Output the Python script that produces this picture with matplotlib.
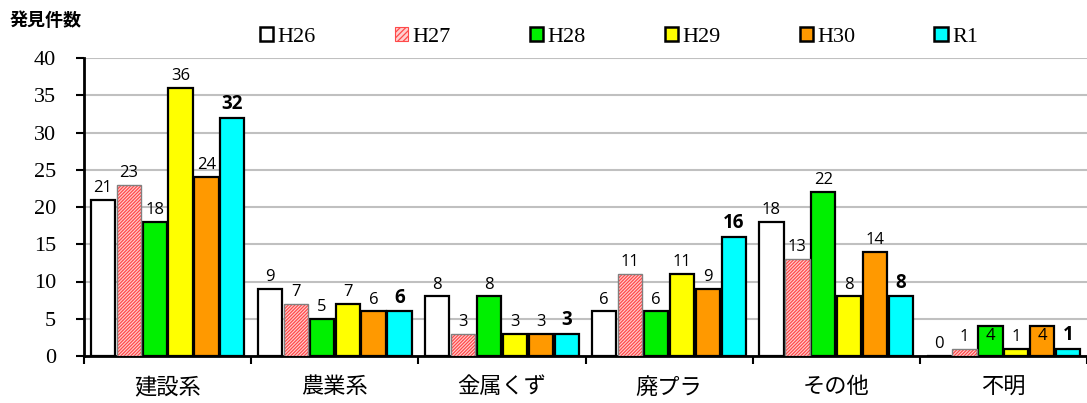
import numpy as np
import matplotlib.pyplot as plt
from matplotlib.patches import Patch

categories = ['建設系', '農業系', '金属くず', '廃プラ', 'その他', '不明']
years = ['H26', 'H27', 'H28', 'H29', 'H30', 'R1']
h26 = [21, 9, 8, 6, 18, 0]
h27 = [23, 7, 3, 11, 13, 1]
h28 = [18, 5, 8, 6, 22, 4]
h29 = [36, 7, 3, 11, 8, 1]
h30 = [24, 6, 3, 9, 14, 4]
r1 = [32, 6, 3, 16, 8, 1]
y_ticks = [0, 5, 10, 15, 20, 25, 30, 35, 40]

series = [h26, h27, h28, h29, h30, r1]
colors = ['white', 'white', '#00f000', '#ffff00', '#ff9900', '#00ffff']

plt.rcParams['font.family'] = ['Noto Sans CJK JP', 'DejaVu Sans']
plt.rcParams['hatch.linewidth'] = 0.9

fig = plt.figure(figsize=(10.87, 4.03), dpi=100)
ax = fig.add_axes([84 / 1087, 1 - 356 / 403, 1003 / 1087, 298 / 403])

x = np.arange(len(categories))
step = 0.155
width = 0.145

for i, (vals, c) in enumerate(zip(series, colors)):
    pos = x + (i - 2.5) * step
    if years[i] == 'H27':
        # ピンクの斜線パターン
        ax.bar(pos, vals, width, color='#ffd0d0', edgecolor='#ff4a4a', hatch='//////////',
               linewidth=0, zorder=3)
        ax.bar(pos, vals, width, fill=False, edgecolor='#808080', linewidth=1.0, zorder=4)
    else:
        ax.bar(pos, vals, width, color=c, edgecolor='black', linewidth=1.6, zorder=3)
    for j, v in enumerate(vals):
        bold = years[i] == 'R1'
        if categories[j] == '不明' and v == 4:
            ty, va = v - 0.2, 'top'
        else:
            ty, va = v + 0.5, 'bottom'
        ax.text(pos[j], ty, str(v), ha='center', va=va,
                fontsize=13.5 if bold else 12,
                fontweight='bold' if bold else 'normal',
                family=['Open Sans', 'DejaVu Sans'], zorder=5)

ax.set_xlim(-0.5, len(categories) - 0.5)
ax.set_ylim(0, 40)
ax.set_yticks(y_ticks)
ax.set_yticklabels([str(t) for t in y_ticks], family=['Liberation Serif'], fontsize=16)
ax.yaxis.grid(True, color='#c0c0c0', linewidth=1.5, zorder=0)
ax.set_axisbelow(True)

ax.set_xticks(np.arange(len(categories) + 1) - 0.5)
ax.set_xticklabels([])
ax.set_xticks(x, minor=True)
ax.set_xticklabels(categories, minor=True, fontsize=16)
ax.tick_params(axis='x', which='minor', length=0, pad=14)
ax.tick_params(axis='x', which='major', length=6, width=1.5, direction='out')
ax.tick_params(axis='y', length=6, width=1.5, direction='out', pad=14)

for side in ['top', 'right']:
    ax.spines[side].set_visible(False)
ax.spines['left'].set_linewidth(2)
ax.spines['bottom'].set_linewidth(2)

handles = []
for i, c in enumerate(colors):
    if years[i] == 'H27':
        handles.append(Patch(facecolor='#ffd0d0', edgecolor='#ff4a4a', hatch='//////',
                             linewidth=0.8, label=years[i]))
    else:
        handles.append(Patch(facecolor=c, edgecolor='black', linewidth=1.8, label=years[i]))
fig.legend(handles=handles, loc='center left', bbox_to_anchor=(240 / 1087, 1 - 37 / 403),
           ncol=6, frameon=False, handlelength=0.6, handleheight=0.6, handletextpad=0.2,
           columnspacing=3.55, prop={'family': 'Liberation Serif', 'size': 16})

fig.text(10 / 1087, 1 - 20 / 403, '発見件数', fontsize=13, fontweight='bold',
         ha='left', va='center')

fig.savefig('out.png', dpi=100)
